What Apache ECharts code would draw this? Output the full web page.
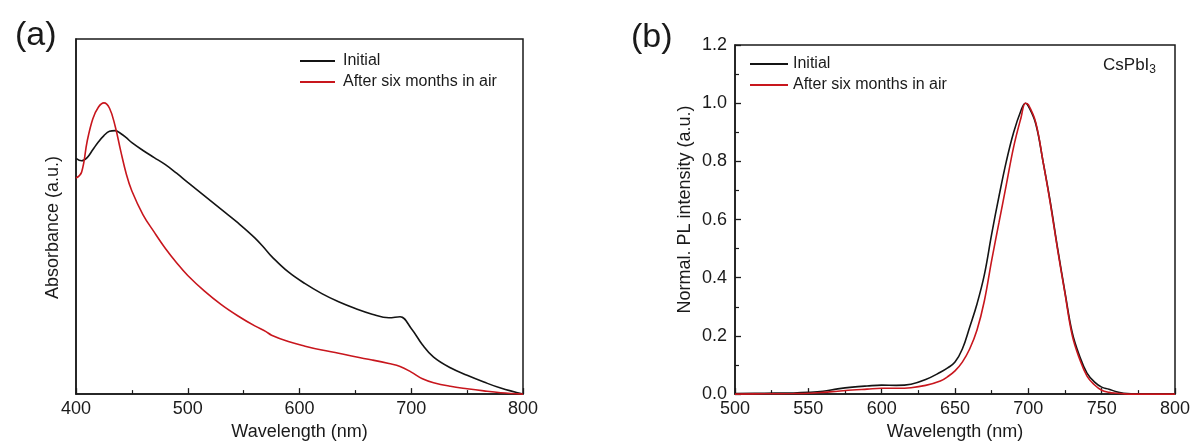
<!DOCTYPE html>
<html>
<head>
<meta charset="utf-8">
<script src="https://cdn.jsdelivr.net/npm/echarts@6/dist/echarts.min.js"></script>
<style>
html, body { margin: 0; padding: 0; background: #fff; }
#container { width: 1194px; height: 446px; }
</style>
</head>
<body>
<div id="container"></div>
<script>
var dom = document.getElementById("container");
var myChart = echarts.init(dom);

// (a) absorbance
var absWl = [400, 405, 410, 415, 420, 425, 430, 435, 440, 445, 450, 460, 470, 480, 490, 500, 515, 530, 545, 560, 570, 575, 590, 605, 620, 635, 650, 665, 680, 690, 700, 710, 720, 735, 750, 765, 780, 800];
var absInitial = [0.664, 0.657, 0.666, 0.688, 0.710, 0.728, 0.740, 0.742, 0.734, 0.722, 0.708, 0.686, 0.666, 0.646, 0.622, 0.596, 0.558, 0.520, 0.482, 0.440, 0.406, 0.388, 0.344, 0.311, 0.283, 0.260, 0.241, 0.225, 0.215, 0.218, 0.185, 0.139, 0.104, 0.074, 0.053, 0.034, 0.017, 0.000];
var absAged = [0.608, 0.625, 0.712, 0.775, 0.808, 0.820, 0.805, 0.755, 0.685, 0.620, 0.572, 0.505, 0.456, 0.410, 0.370, 0.334, 0.290, 0.252, 0.220, 0.192, 0.176, 0.166, 0.148, 0.135, 0.124, 0.115, 0.105, 0.096, 0.086, 0.078, 0.062, 0.043, 0.032, 0.022, 0.015, 0.009, 0.004, 0.000];

// (b) normalized PL
var plWl = [500, 520, 540, 550, 560, 570, 580, 590, 600, 610, 620, 630, 640, 645, 650, 655, 660, 665, 670, 675, 680, 685, 690, 695, 698, 700, 705, 710, 715, 720, 725, 730, 735, 740, 745, 750, 755, 760, 765, 770, 785, 800];
var plInitial = [0.002, 0.003, 0.004, 0.006, 0.010, 0.018, 0.024, 0.028, 0.031, 0.030, 0.034, 0.050, 0.075, 0.090, 0.110, 0.155, 0.230, 0.310, 0.410, 0.550, 0.680, 0.800, 0.900, 0.975, 1.000, 0.990, 0.930, 0.800, 0.660, 0.500, 0.350, 0.210, 0.130, 0.072, 0.042, 0.024, 0.017, 0.008, 0.003, 0.001, 0.000, 0.000];
var plAged = [0.000, 0.001, 0.002, 0.003, 0.006, 0.010, 0.014, 0.017, 0.020, 0.020, 0.022, 0.030, 0.045, 0.060, 0.080, 0.110, 0.155, 0.220, 0.320, 0.460, 0.590, 0.720, 0.850, 0.950, 1.000, 0.995, 0.935, 0.800, 0.655, 0.495, 0.345, 0.200, 0.120, 0.062, 0.032, 0.013, 0.006, 0.003, 0.001, 0.000, 0.000, 0.000];

var seriesNames = ['Initial', 'After six months in air'];
var colors = ['#141414', '#c8161d'];

var pairs = function (xs, ys) {
    var res = [];
    for (var i = 0; i < xs.length; i++) {
        res.push([xs[i], ys[i]]);
    }
    return res;
};

var font = 'Liberation Sans, Arial, sans-serif';
var ink = '#1a1a1a';

var xAxisBase = function (gridIndex, min, max, interval) {
    return {
        type: 'value',
        gridIndex: gridIndex,
        min: min,
        max: max,
        interval: interval,
        name: 'Wavelength (nm)',
        nameLocation: 'middle',
        nameGap: 22,
        nameTextStyle: { fontFamily: font, fontSize: 18, color: ink },
        axisLine: { show: true, lineStyle: { color: ink, width: 1.5 } },
        axisTick: { show: true, inside: true, length: 6, lineStyle: { color: ink, width: 1.3 } },
        minorTick: { show: true, splitNumber: 2, length: 4, lineStyle: { color: ink, width: 1.2 } },
        axisLabel: { fontFamily: font, fontSize: 18, color: ink, margin: 6 },
        splitLine: { show: false }
    };
};

var lineSeries = function (name, color, xi, data) {
    return {
        name: name,
        type: 'line',
        xAxisIndex: xi,
        yAxisIndex: xi,
        data: data,
        symbol: 'none',
        showSymbol: false,
        smooth: 0.4,
        lineStyle: { color: color, width: 1.6 },
        itemStyle: { color: color },
        animation: false
    };
};

var legendBase = function (left, top, w, pad) {
    return {
        data: seriesNames,
        orient: 'vertical',
        left: left,
        top: top,
        icon: 'rect',
        itemWidth: w,
        itemHeight: 2,
        itemGap: 5,
        textStyle: { fontFamily: font, fontSize: 16, color: ink, lineHeight: 16, padding: [0, 0, 0, pad] }
    };
};

option = {
    backgroundColor: '#fff',
    animation: false,
    title: [{
        text: '(a)',
        left: 10,
        top: 14,
        textStyle: { fontFamily: font, fontSize: 34, fontWeight: 'normal', color: ink }
    }, {
        text: '(b)',
        left: 626,
        top: 16,
        textStyle: { fontFamily: font, fontSize: 34, fontWeight: 'normal', color: ink }
    }, {
        text: '{m|CsPbI}{s|3}',
        right: 33,
        top: 49,
        textStyle: {
            fontWeight: 'normal',
            rich: {
                m: { fontFamily: font, fontSize: 17, fontWeight: 'normal', color: ink },
                s: { fontFamily: font, fontSize: 12, fontWeight: 'normal', color: ink, padding: [10, 0, 0, 0] }
            }
        }
    }],
    legend: [legendBase(295, 48, 35, 3), legendBase(745, 51, 38, 0)],
    grid: [{
        left: 76, top: 39, width: 447, height: 359,
        show: true, borderColor: ink, borderWidth: 1.5
    }, {
        left: 735, top: 45, width: 440, height: 353,
        show: true, borderColor: ink, borderWidth: 1.5
    }],
    xAxis: [
        xAxisBase(0, 400, 800, 100),
        xAxisBase(1, 500, 800, 50)
    ],
    yAxis: [{
        type: 'value',
        gridIndex: 0,
        min: 0,
        max: 1,
        name: 'Absorbance (a.u.)',
        nameLocation: 'middle',
        nameGap: 14,
        nameTextStyle: { fontFamily: font, fontSize: 18, color: ink, padding: [0, 22, 0, 0] },
        axisLine: { show: true, lineStyle: { color: ink, width: 1.5 } },
        axisTick: { show: false },
        axisLabel: { show: false },
        splitLine: { show: false }
    }, {
        type: 'value',
        gridIndex: 1,
        min: 0,
        max: 1.2,
        interval: 0.2,
        name: 'Normal. PL intensity (a.u.)',
        nameLocation: 'middle',
        nameGap: 41,
        nameTextStyle: { fontFamily: font, fontSize: 18, color: ink, padding: [0, 0, 0, 20] },
        axisLine: { show: true, lineStyle: { color: ink, width: 1.5 } },
        axisTick: { show: true, inside: true, length: 6, lineStyle: { color: ink, width: 1.3 } },
        minorTick: { show: true, splitNumber: 2, length: 4, lineStyle: { color: ink, width: 1.2 } },
        axisLabel: {
            fontFamily: font, fontSize: 18, color: ink, margin: 8,
            formatter: function (v) { return v.toFixed(1); }
        },
        splitLine: { show: false }
    }],
    series: [
        lineSeries(seriesNames[0], colors[0], 0, pairs(absWl, absInitial)),
        lineSeries(seriesNames[1], colors[1], 0, pairs(absWl, absAged)),
        lineSeries(seriesNames[0], colors[0], 1, pairs(plWl, plInitial)),
        lineSeries(seriesNames[1], colors[1], 1, pairs(plWl, plAged))
    ]
};

if (option && typeof option === "object") {
    myChart.setOption(option, true);
}
</script>
</body>
</html>
